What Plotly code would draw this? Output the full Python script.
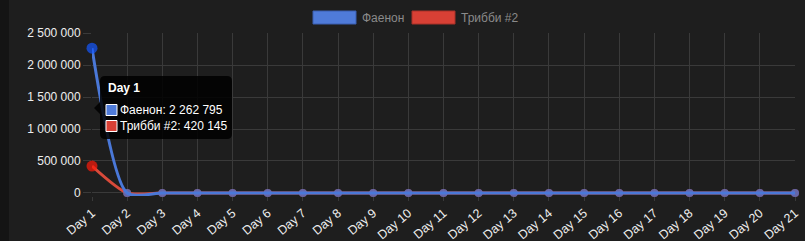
import plotly.graph_objects as go

days = [f"Day {i}" for i in range(1, 22)]
faenon = [2262795] + [0] * 20
tribbi = [420145] + [0] * 20
series_names = ["Фаенон", "Трибби #2"]
line_colors = ["#4a78d8", "#d84a3a"]
legend_colors = ["#4f7bd9", "#d84035"]
hover_colors = ["#1457ff", "#ff1a0a"]
y_ticks = [0, 500000, 1000000, 1500000, 2000000, 2500000]

fig = go.Figure()

# red first so blue is drawn on top
for name, vals, lc, hc in [(series_names[1], tribbi, line_colors[1], hover_colors[1]),
                           (series_names[0], faenon, line_colors[0], hover_colors[0])]:
    fig.add_trace(go.Scatter(
        x=days, y=vals, name=name, mode="lines+markers",
        line=dict(color=lc, width=3, shape="spline", smoothing=0.7),
        marker=dict(color=[hc] + [lc] * 20, size=[11] + [8] * 20, line=dict(width=0)),
        cliponaxis=False, showlegend=False, hoverinfo="skip"))

W, H = 805, 241
L, R, T, B = 92, 10, 33, 45
pw = W - L - R
ph = H - T - B

def px(x):
    return (x - L) / pw

def py(y):
    return (H - B - y) / ph

shapes = []
annotations = []

# dark left strip
shapes.append(dict(type="rect", xref="paper", yref="paper", x0=px(0), x1=px(9), y0=py(H), y1=py(0),
                   fillcolor="#141414", line=dict(width=0), layer="below"))

# legend
leg_items = [(313, series_names[0], legend_colors[0], "#3a5fb0"),
             (412, series_names[1], legend_colors[1], "#a83028")]
for x0, name, col, bcol in leg_items:
    shapes.append(dict(type="rect", xref="paper", yref="paper", x0=px(x0), x1=px(x0 + 43),
                       y0=py(24), y1=py(11), fillcolor=col, line=dict(color=bcol, width=1)))
    annotations.append(dict(xref="paper", yref="paper", x=px(x0 + 47), y=py(17.5), text=name,
                            showarrow=False, xanchor="left", yanchor="middle",
                            font=dict(color="#8a8a8a", size=12)))

# tooltip
tip_l, tip_r, tip_t, tip_b = 100, 232, 76, 139
r = 5
path = (f"M {px(tip_l + r)},{py(tip_t)} L {px(tip_r - r)},{py(tip_t)} "
        f"Q {px(tip_r)},{py(tip_t)} {px(tip_r)},{py(tip_t + r)} "
        f"L {px(tip_r)},{py(tip_b - r)} Q {px(tip_r)},{py(tip_b)} {px(tip_r - r)},{py(tip_b)} "
        f"L {px(tip_l + r)},{py(tip_b)} Q {px(tip_l)},{py(tip_b)} {px(tip_l)},{py(tip_b - r)} "
        f"L {px(tip_l)},{py(114)} L {px(94)},{py(108)} L {px(tip_l)},{py(102)} "
        f"L {px(tip_l)},{py(tip_t + r)} Q {px(tip_l)},{py(tip_t)} {px(tip_l + r)},{py(tip_t)} Z")
shapes.append(dict(type="path", xref="paper", yref="paper", path=path,
                   fillcolor="rgba(0,0,0,0.85)", line=dict(width=0)))
annotations.append(dict(xref="paper", yref="paper", x=px(106), y=py(88), text="<b>Day 1</b>",
                        showarrow=False, xanchor="left", yanchor="middle",
                        font=dict(color="#ffffff", size=12)))
tip_rows = [(110, series_names[0], faenon[0], legend_colors[0]),
            (126, series_names[1], tribbi[0], legend_colors[1])]
for yc, name, val, col in tip_rows:
    shapes.append(dict(type="rect", xref="paper", yref="paper", x0=px(106), x1=px(117),
                       y0=py(yc + 5.5), y1=py(yc - 5.5), fillcolor=col,
                       line=dict(color="#ffffff", width=1)))
    annotations.append(dict(xref="paper", yref="paper", x=px(118), y=py(yc),
                            text=f"{name}: {val:,}".replace(",", " "),
                            showarrow=False, xanchor="left", yanchor="middle",
                            font=dict(color="#ffffff", size=12)))

fig.update_layout(
    width=W, height=H,
    margin=dict(l=L, r=R, t=T, b=B, pad=0, autoexpand=False),
    paper_bgcolor="#1e1e1e", plot_bgcolor="#1e1e1e",
    font=dict(family="Liberation Sans, Arial, sans-serif", size=12, color="#eeeeee"),
    separators=". ",
    showlegend=False,
    hovermode=False,
    shapes=shapes,
    annotations=annotations,
    xaxis=dict(type="category", range=[0, 20], showgrid=True, gridcolor="#3a3a3a", gridwidth=1,
               ticks="outside", ticklen=4, tickcolor="#3a3a3a", tickangle=-40,
               tickfont=dict(color="#eeeeee", size=12.5), zeroline=False, showline=False,
               fixedrange=True, automargin=False),
    yaxis=dict(range=[-47000, 2500000], tickvals=y_ticks, tickformat=",d",
               showgrid=True, gridcolor="#3a3a3a", gridwidth=1,
               ticks="outside", ticklen=8, tickcolor="#3a3a3a",
               tickfont=dict(color="#eeeeee", size=12), zeroline=False, showline=False,
               fixedrange=True, automargin=False),
)

fig.write_html("out.html")
